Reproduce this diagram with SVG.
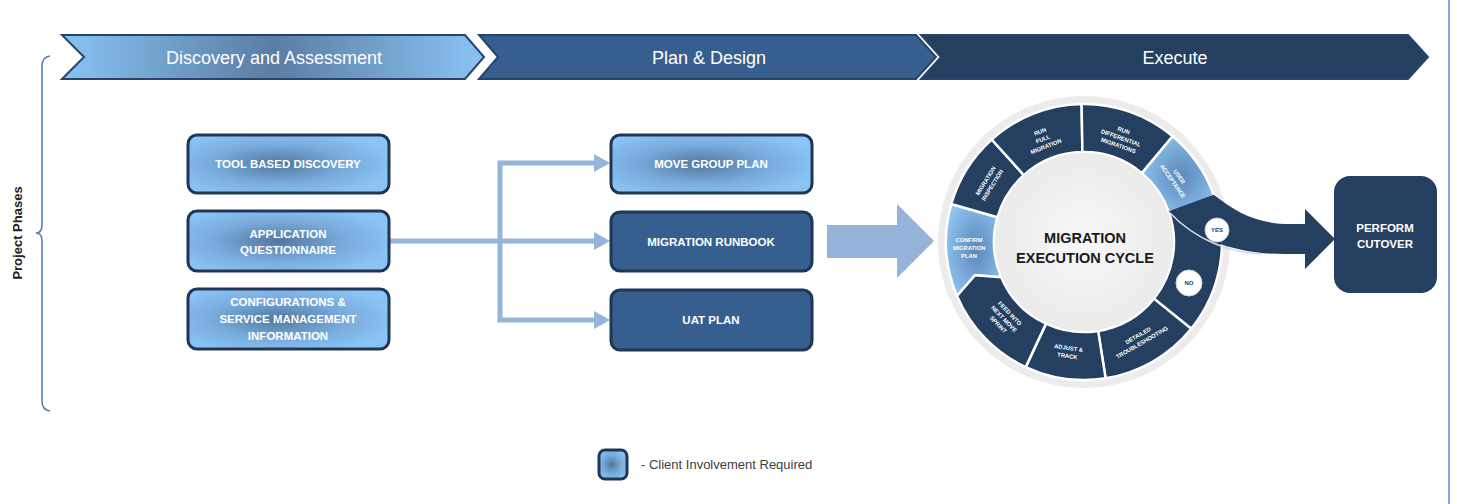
<svg xmlns="http://www.w3.org/2000/svg" width="1457" height="504" viewBox="0 0 1457 504">
<style>
.ph{font-family:"Liberation Sans",Arial,sans-serif;font-size:18px;fill:#fff;text-anchor:middle}
.bx{font-family:"Liberation Sans",Arial,sans-serif;font-weight:bold;font-size:11.5px;fill:#fff;text-anchor:middle}
.client{fill:url(#gClient);stroke:#1E3757;stroke-width:3}
.dark{fill:#365F8F;stroke:#1E3757;stroke-width:3}
.seg{fill:#243F60;stroke:#fff;stroke-width:2.5;stroke-linejoin:round}
.segl{fill:url(#gSeg);stroke:#fff;stroke-width:2.5;stroke-linejoin:round}
.st{font-family:"Liberation Sans",Arial,sans-serif;font-weight:bold;font-size:5.8px;fill:#fff;text-anchor:middle}
.conn{fill:none;stroke:#95B4DA;stroke-width:5}
.yn{font-family:"Liberation Sans",Arial,sans-serif;font-weight:bold;font-size:6px;fill:#243F60;text-anchor:middle}
</style>
<defs>
<linearGradient id="gChev1" x1="0" y1="0" x2="1" y2="0">
<stop offset="0" stop-color="#88C3F3"/>
<stop offset="0.5" stop-color="#5A7DA4"/>
<stop offset="1" stop-color="#8AC4F4"/>
</linearGradient>
<radialGradient id="gClient" cx="0.45" cy="0.5" r="0.6">
<stop offset="0" stop-color="#52779F"/>
<stop offset="0.55" stop-color="#78ABDC"/>
<stop offset="1" stop-color="#8CC5F5"/>
</radialGradient>
<radialGradient id="gSeg" cx="0.55" cy="0.5" r="0.65">
<stop offset="0" stop-color="#5B88BA"/>
<stop offset="1" stop-color="#94C8F4"/>
</radialGradient>
<radialGradient id="gInner" cx="0.5" cy="0.5" r="0.5">
<stop offset="0" stop-color="#F7F7F7"/>
<stop offset="1" stop-color="#EBEBEB"/>
</radialGradient>
<marker id="ah" viewBox="0 0 16 18" refX="0" refY="9" markerUnits="userSpaceOnUse" markerWidth="16" markerHeight="18" orient="auto">
<path d="M0,0 L16,9 L0,18 Z" fill="#95B4DA"/>
</marker>
</defs>

<rect width="1457" height="504" fill="#fff"/>
<line x1="1449" y1="0" x2="1449" y2="504" stroke="#5B8BD0" stroke-width="1.5"/>

<g id="phases">
<g id="phase-discovery">
<path d="M62,35 L465,35 L484,57 L465,79 L62,79 L84,57 Z" fill="url(#gChev1)" stroke="#27456A" stroke-width="2"/>
<text class="ph" x="274" y="64">Discovery and Assessment</text>
</g>
<g id="phase-plan">
<path d="M479,35 L916,35 L936,57 L916,79 L479,79 L498,57 Z" fill="#365F8F" stroke="#27456A" stroke-width="2"/>
<text class="ph" x="709" y="64">Plan &amp; Design</text>
</g>
<g id="phase-execute">
<path d="M921,35 L1408,35 L1428,57 L1408,79 L921,79 L941,57 Z" fill="#243F60" stroke="#27456A" stroke-width="2"/>
<text class="ph" x="1175" y="64">Execute</text>
</g>
</g>

<g id="project-phases">
<path d="M50,56 Q42,57 42,66 L42,225 Q42,233 36,233 Q42,233 42,241 L42,401 Q42,410 50,411" fill="none" stroke="#5B80B0" stroke-width="1.6"/>
<text x="22" y="233" transform="rotate(-90 22 233)" font-family="Liberation Sans, Arial, sans-serif" font-weight="bold" font-size="13px" fill="#222" text-anchor="middle">Project Phases</text>
</g>

<g id="connectors">
<path class="conn" d="M389,241 L594,241" marker-end="url(#ah)"/>
<path class="conn" d="M500,241 L500,163 L594,163" marker-end="url(#ah)"/>
<path class="conn" d="M500,241 L500,320 L594,320" marker-end="url(#ah)"/>
<path d="M827,225 L897,225 L897,204 L934,241 L897,278 L897,258 L827,258 Z" fill="#95B4DA"/>
</g>

<g id="tool-based-discovery">
<rect class="client" x="188" y="135" width="201" height="58" rx="9"/>
<text class="bx" x="288" y="168">TOOL BASED DISCOVERY</text>
</g>
<g id="application-questionnaire">
<rect class="client" x="188" y="211" width="201" height="60" rx="9"/>
<text class="bx" x="288" y="238">APPLICATION</text>
<text class="bx" x="288" y="254">QUESTIONNAIRE</text>
</g>
<g id="configurations">
<rect class="client" x="188" y="289" width="201" height="60" rx="9"/>
<text class="bx" x="288" y="306">CONFIGURATIONS &amp;</text>
<text class="bx" x="288" y="323">SERVICE MANAGEMENT</text>
<text class="bx" x="288" y="340">INFORMATION</text>
</g>

<g id="move-group-plan">
<rect class="client" x="611" y="135" width="201" height="58" rx="9"/>
<text class="bx" x="711" y="168">MOVE GROUP PLAN</text>
</g>
<g id="migration-runbook">
<rect class="dark" x="611" y="212" width="201" height="59" rx="9"/>
<text class="bx" x="711" y="246">MIGRATION RUNBOOK</text>
</g>
<g id="uat-plan">
<rect class="dark" x="611" y="290" width="201" height="60" rx="9"/>
<text class="bx" x="711" y="324">UAT PLAN</text>
</g>

<g id="execution-cycle">
<circle cx="1084" cy="242" r="146" fill="#ECECEC"/>
<g id="seg-confirm">
<path class="segl" d="M957,295.9 L975,275.3 L1001.2,277.2 A90,90 0 0 1 997.5,217.2 L951.3,204 A138,138 0 0 0 957,295.9 Z"/>
<text class="st" x="969" y="242">CONFIRM</text>
<text class="st" x="969" y="250">MIGRATION</text>
<text class="st" x="969" y="258">PLAN</text>
</g>
<g id="seg-inspection">
<path class="seg" d="M951.3,204 A138,138 0 0 1 991.7,139.5 L1023.8,175.1 A90,90 0 0 0 997.5,217.2 Z"/>
<g transform="translate(989,183) rotate(-58)">
<text class="st" x="0" y="-2">MIGRATION</text>
<text class="st" x="0" y="6">INSPECTION</text>
</g>
</g>
<g id="seg-run-full">
<path class="seg" d="M991.7,139.5 A138,138 0 0 1 1081.6,104 L1082.4,152 A90,90 0 0 0 1023.8,175.1 Z"/>
<g transform="translate(1043,139) rotate(-21.5)">
<text class="st" x="0" y="-6">RUN</text>
<text class="st" x="0" y="2">FULL</text>
<text class="st" x="0" y="10">MIGRATION</text>
</g>
</g>
<g id="seg-run-diff">
<path class="seg" d="M1081.6,104 A138,138 0 0 1 1172.7,136.3 L1141.9,173.1 A90,90 0 0 0 1082.4,152 Z"/>
<g transform="translate(1121,138) rotate(19.5)">
<text class="st" x="0" y="-6">RUN</text>
<text class="st" x="0" y="2">DIFFERENTIAL</text>
<text class="st" x="0" y="10">MIGRATIONS</text>
</g>
</g>
<g id="seg-user-acceptance">
<path class="segl" d="M1172.7,136.3 A138,138 0 0 1 1213.7,194.8 L1194.6,214.4 L1168.6,211.2 A90,90 0 0 0 1141.9,173.1 Z"/>
<g transform="translate(1176,179) rotate(55)">
<text class="st" x="0" y="-2">USER</text>
<text class="st" x="0" y="6">ACCEPTANCE</text>
</g>
</g>
<g id="seg-decision">
<path class="seg" d="M1213.7,194.8 A138,138 0 0 1 1191.2,328.8 L1153.9,298.6 A90,90 0 0 0 1168.6,211.2 L1194.6,214.4 Z"/>
</g>
<g id="seg-detailed">
<path class="seg" d="M1191.2,328.8 A138,138 0 0 1 1105.6,378.3 L1098.1,330.9 A90,90 0 0 0 1153.9,298.6 Z"/>
<g transform="translate(1140,339) rotate(-30)">
<text class="st" x="0" y="-2">DETAILED</text>
<text class="st" x="0" y="6">TROUBLESHOOTING</text>
</g>
</g>
<g id="seg-adjust">
<path class="seg" d="M1105.6,378.3 A138,138 0 0 1 1025.7,367.1 L1046,323.6 A90,90 0 0 0 1098.1,330.9 Z"/>
<g transform="translate(1068,352) rotate(8)">
<text class="st" x="0" y="-2">ADJUST &amp;</text>
<text class="st" x="0" y="6">TRACK</text>
</g>
</g>
<g id="seg-feed">
<path class="seg" d="M1025.7,367.1 A138,138 0 0 1 957,295.9 L975,275.3 L1001.2,277.2 A90,90 0 0 0 1046,323.6 Z"/>
<g transform="translate(1004,319) rotate(46)">
<text class="st" x="0" y="-6">FEED INTO</text>
<text class="st" x="0" y="2">NEXT MOVE</text>
<text class="st" x="0" y="10">SPRINT</text>
</g>
</g>
<circle cx="1084" cy="242" r="89" fill="url(#gInner)"/>
<text x="1085" y="243" font-family="Liberation Sans, Arial, sans-serif" font-weight="bold" font-size="14.5px" fill="#1A1A1A" text-anchor="middle">MIGRATION</text>
<text x="1085" y="263" font-family="Liberation Sans, Arial, sans-serif" font-weight="bold" font-size="14.5px" fill="#1A1A1A" text-anchor="middle">EXECUTION CYCLE</text>
</g>

<g id="yes-path">
<path d="M1213.7,194.8 C1236,212 1256,224 1290,224 L1305,224 L1305,209 L1335,239 L1305,269 L1305,254 L1285,254 C1236,254 1196,240 1168.6,211.2 Z" fill="#243F60"/>
<path d="M1170,213 C1196,240 1230,253 1262,254" fill="none" stroke="#D5DEE8" stroke-width="1.5"/>
<circle cx="1217" cy="230" r="12" fill="#fff" stroke="#C9D3DE" stroke-width="1"/>
<text class="yn" x="1217" y="232">YES</text>
</g>
<g id="no-badge">
<circle cx="1189" cy="283" r="13" fill="#fff" stroke="#C9D3DE" stroke-width="1"/>
<text class="yn" x="1189" y="285">NO</text>
</g>

<g id="perform-cutover">
<rect x="1334" y="176" width="103" height="117" rx="16" fill="#243F60"/>
<text class="bx" x="1385" y="232" font-size="12.5px">PERFORM</text>
<text class="bx" x="1385" y="248" font-size="12.5px">CUTOVER</text>
</g>

<g id="legend">
<rect x="599" y="450" width="28" height="29" rx="6" fill="url(#gClient)" stroke="#1E3757" stroke-width="3"/>
<text x="641" y="469" font-family="Liberation Sans, Arial, sans-serif" font-size="13px" fill="#404040">-  Client Involvement Required</text>
</g>
</svg>
